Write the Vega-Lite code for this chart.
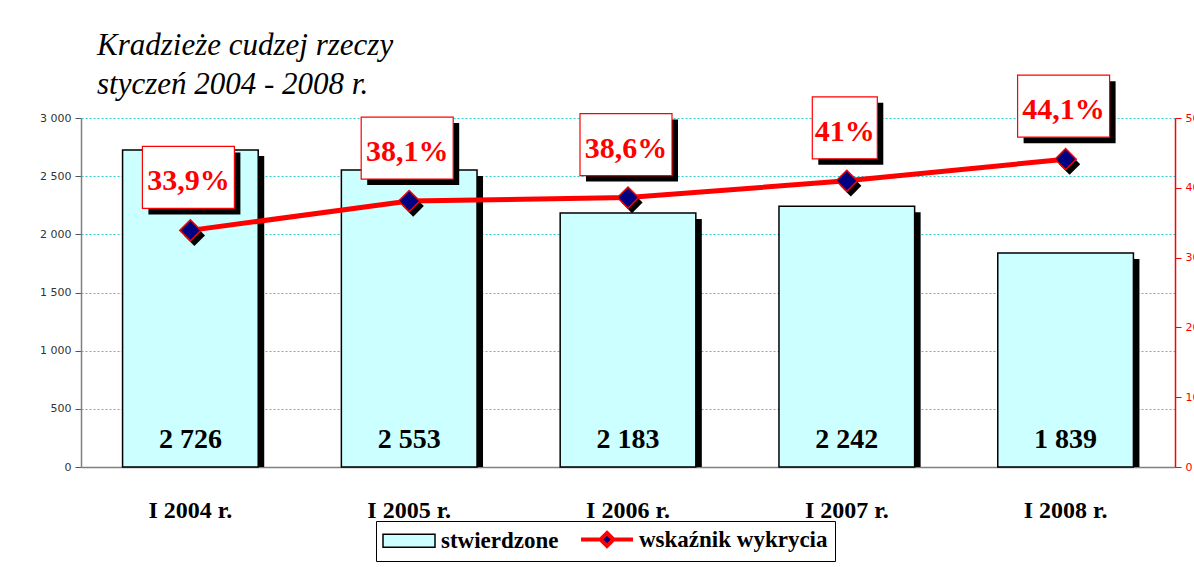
{
  "$schema": "https://vega.github.io/schema/vega-lite/v6.json",
  "width": 1094,
  "height": 349,
  "autosize": {"type": "none"},
  "padding": {"left": 81, "top": 118, "right": 19, "bottom": 100},
  "background": "white",
  "config": {
    "locale": {"number": {"decimal": ",", "thousands": " ", "grouping": [3], "currency": ["", " zł"]}},
    "view": {"stroke": null}
  },
  "title": {
    "text": ["Kradzieże cudzej rzeczy", "styczeń 2004 - 2008 r."],
    "anchor": "start",
    "frame": "group",
    "dx": 16,
    "offset": -28,
    "font": "Liberation Serif",
    "fontStyle": "italic",
    "fontWeight": "normal",
    "fontSize": 31,
    "lineHeight": 39,
    "color": "black"
  },
  "data": {
    "values": [
      {"rok": "I 2004 r.", "stwierdzone": 2726, "wskaznik": 0.339},
      {"rok": "I 2005 r.", "stwierdzone": 2553, "wskaznik": 0.381},
      {"rok": "I 2006 r.", "stwierdzone": 2183, "wskaznik": 0.386},
      {"rok": "I 2007 r.", "stwierdzone": 2242, "wskaznik": 0.41},
      {"rok": "I 2008 r.", "stwierdzone": 1839, "wskaznik": 0.441}
    ]
  },
  "encoding": {
    "x": {
      "field": "rok",
      "type": "nominal",
      "sort": null,
      "scale": {"paddingInner": 0.38, "paddingOuter": 0.19},
      "axis": {
        "title": null,
        "labelAngle": 0,
        "labelFont": "Liberation Serif",
        "labelFontSize": 24,
        "labelFontWeight": "bold",
        "labelColor": "black",
        "ticks": false,
        "domainColor": "#808080",
        "domainWidth": 1.5,
        "labelPadding": 31
      }
    }
  },
  "layer": [
    {
      "layer": [
        {
          "mark": {"type": "bar", "color": "black", "opacity": 1, "xOffset": 6, "yOffset": 6, "clip": true},
          "encoding": {
            "y": {
              "field": "stwierdzone",
              "type": "quantitative",
              "scale": {"domain": [0, 3000]},
              "axis": {
                "title": null,
                "values": [0, 500, 1000, 1500, 2000, 2500, 3000],
                "format": ",d",
                "labelFont": "DejaVu Sans",
                "labelFontSize": 11,
                "labelColor": "#333333",
                "tickColor": "#555555",
                "tickSize": 6,
                "domainColor": "#808080",
                "domainWidth": 1.5,
                "grid": true,
                "gridColor": "#33CCCC",
                "gridDash": [2, 2],
                "labelPadding": 4
              }
            }
          }
        },
        {
          "mark": {"type": "bar", "fill": "#CCFFFF", "stroke": "black", "strokeWidth": 1.5, "opacity": 1},
          "encoding": {
            "y": {"field": "stwierdzone", "type": "quantitative"}
          }
        },
        {
          "mark": {"type": "text", "font": "Liberation Serif", "fontWeight": "bold", "fontSize": 28, "baseline": "alphabetic", "dy": -19, "color": "black"},
          "encoding": {
            "y": {"datum": 0, "type": "quantitative"},
            "text": {"field": "stwierdzone", "type": "quantitative", "format": ",d"}
          }
        }
      ]
    },
    {
      "layer": [
        {
          "mark": {"type": "point", "filled": true, "opacity": 0, "size": 1},
          "encoding": {
            "y": {
              "field": "wskaznik",
              "type": "quantitative",
              "scale": {"domain": [0, 0.5]},
              "axis": {
                "orient": "right",
                "title": null,
                "values": [0, 0.05, 0.1, 0.15, 0.2, 0.25, 0.3, 0.35, 0.4, 0.45, 0.5],
                "labelExpr": "'' + round(datum.value * 100)",
                "labelFont": "DejaVu Sans",
                "labelFontSize": 11,
                "labelColor": "#FF0000",
                "tickColor": "#FF0000",
                "tickSize": 6,
                "domainColor": "#FF0000",
                "domainWidth": 1.5,
                "grid": false,
                "labelPadding": 4
              }
            },
            "color": {
              "datum": "stwierdzone",
              "type": "nominal",
              "scale": {"domain": ["stwierdzone", "wskaźnik wykrycia"], "range": ["#CCFFFF", "#000080"]},
              "legend": {
                "title": null,
                "orient": "none",
                "legendX": 295,
                "legendY": 403,
                "direction": "horizontal",
                "strokeColor": "black",
                "fillColor": "white",
                "padding": 7,
                "labelFont": "Liberation Serif",
                "labelFontSize": 23,
                "labelFontWeight": "bold",
                "labelColor": "black",
                "labelOffset": 35,
                "labelLimit": 400,
                "columnPadding": 14,
                "symbolSize": 2704,
                "symbolOpacity": 1,
                "encoding": {
                  "symbols": {
                    "x": {"value": 26},
                    "shape": {"value": {"expr": "datum.value == 'stwierdzone' ? 'M-1,-0.25L1,-0.25L1,0.25L-1,0.25Z' : 'M-1,0L-0.25,0M0.25,0L1,0M0,-0.25L0.25,0L0,0.25L-0.25,0Z'"}},
                    "stroke": {"value": {"expr": "datum.value == 'stwierdzone' ? 'black' : '#FF0000'"}},
                    "strokeWidth": {"value": {"expr": "datum.value == 'stwierdzone' ? 1.5 : 4"}},
                    "opacity": {"value": 1},
                    "fillOpacity": {"value": 1},
                    "strokeOpacity": {"value": 1}
                  }
                }
              }
            }
          }
        },
        {
          "mark": {"type": "point", "filled": true, "opacity": 0, "size": 1},
          "encoding": {
            "y": {"field": "wskaznik", "type": "quantitative"},
            "color": {"datum": "wskaźnik wykrycia", "type": "nominal"}
          }
        },
        {
          "mark": {"type": "line", "color": "#FF0000", "strokeWidth": 5},
          "encoding": {
            "y": {"field": "wskaznik", "type": "quantitative"}
          }
        },
        {
          "mark": {"type": "point", "shape": "diamond", "filled": true, "color": "black", "opacity": 1, "size": 450, "xOffset": 4, "yOffset": 5},
          "encoding": {"y": {"field": "wskaznik", "type": "quantitative"}}
        },
        {
          "mark": {"type": "point", "shape": "diamond", "filled": true, "fill": "#000080", "stroke": "#FF0000", "strokeWidth": 1.5, "opacity": 1, "size": 450},
          "encoding": {"y": {"field": "wskaznik", "type": "quantitative"}}
        },
        {
          "mark": {"type": "point", "filled": true, "fill": "black", "opacity": 1, "size": 10000, "xOffset": 4, "yOffset": -47},
          "encoding": {
            "y": {"field": "wskaznik", "type": "quantitative"},
            "shape": {"condition": {"test": "datum.wskaznik == 0.41", "value": "M-0.65,-0.62L0.65,-0.62L0.65,0.62L-0.65,0.62Z"}, "value": "M-0.92,-0.62L0.92,-0.62L0.92,0.62L-0.92,0.62Z"}
          }
        },
        {
          "mark": {"type": "point", "filled": true, "fill": "white", "stroke": "#FF0000", "strokeWidth": 1.2, "opacity": 1, "size": 10000, "xOffset": -2, "yOffset": -53},
          "encoding": {
            "y": {"field": "wskaznik", "type": "quantitative"},
            "shape": {"condition": {"test": "datum.wskaznik == 0.41", "value": "M-0.65,-0.62L0.65,-0.62L0.65,0.62L-0.65,0.62Z"}, "value": "M-0.92,-0.62L0.92,-0.62L0.92,0.62L-0.92,0.62Z"}
          }
        },
        {
          "mark": {"type": "text", "font": "Liberation Serif", "fontWeight": "bold", "fontSize": 30, "baseline": "alphabetic", "dx": -2, "dy": -40, "color": "#FF0000"},
          "encoding": {
            "y": {"field": "wskaznik", "type": "quantitative"},
            "text": {"field": "wskaznik", "type": "quantitative", "format": ".3~p"}
          }
        }
      ]
    }
  ],
  "resolve": {"scale": {"y": "independent"}}
}
